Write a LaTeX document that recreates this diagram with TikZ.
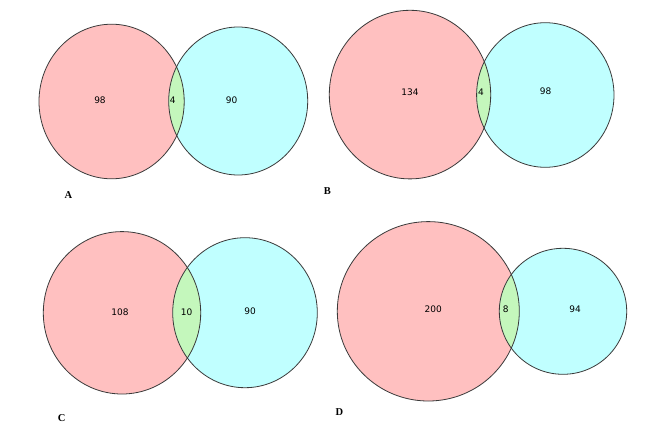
\documentclass[tikz,border=0pt]{standalone}
\usepackage{fontspec}
\setmainfont{Liberation Serif}
\newfontfamily\numfont{DejaVu Sans}
\definecolor{vred}{HTML}{FFC0C0}
\definecolor{vblue}{HTML}{C0FFFF}
\definecolor{vgreen}{HTML}{C4F7BC}
\definecolor{vline}{HTML}{3A3A3A}
\newcommand{\vennpair}[8]{%
  \fill[vred] (#1,#2) ellipse [x radius=#3, y radius=#4];
  \fill[vblue] (#5,#6) ellipse [x radius=#7, y radius=#8];
  \begin{scope}
    \clip (#1,#2) ellipse [x radius=#3, y radius=#4];
    \fill[vgreen] (#5,#6) ellipse [x radius=#7, y radius=#8];
  \end{scope}
  \draw[outline] (#1,#2) ellipse [x radius=#3, y radius=#4];
  \draw[outline] (#5,#6) ellipse [x radius=#7, y radius=#8];
}
\begin{document}
\begin{tikzpicture}[x=1pt,y=-1pt,
  outline/.style={draw=vline, line width=0.8pt},
  count/.style={font=\numfont\fontsize{9}{10}\selectfont, inner sep=0pt},
  panel/.style={font=\bfseries\fontsize{10.5}{11}\selectfont, inner sep=0pt}]
\useasboundingbox[fill=white] (0,0) rectangle (661,431);
% A
\vennpair{111.6}{101.5}{72.6}{77.3}{238.2}{101}{69.5}{74}
\node[count] (a1) at (100,100) {98};
\node[count] (a2) at (172.7,100.7) {4};
\node[count] (a3) at (231.7,100) {90};
\node[panel] (la) at (68.3,195) {A};
% B
\vennpair{410}{94.6}{80.7}{84.3}{545.3}{95}{68.7}{72.3}
\node[count] (b1) at (410,92) {134};
\node[count] (b2) at (481,92) {4};
\node[count] (b3) at (545.7,91.7) {98};
\node[panel] (lb) at (327.3,190.7) {B};
% C
\vennpair{122}{312.8}{78.7}{81.2}{245}{312.7}{72.3}{75}
\node[count] (c1) at (120,312.3) {108};
\node[count] (c2) at (186.7,312.3) {10};
\node[count] (c3) at (250,311.7) {90};
\node[panel] (lc) at (61.7,418.3) {C};
% D
\vennpair{428.3}{311.3}{91}{89.7}{563}{311.3}{63.7}{63}
\node[count] (d1) at (433.3,309.3) {200};
\node[count] (d2) at (505.7,309.3) {8};
\node[count] (d3) at (575,309.3) {94};
\node[panel] (ld) at (339.3,412.3) {D};
\end{tikzpicture}
\end{document}
